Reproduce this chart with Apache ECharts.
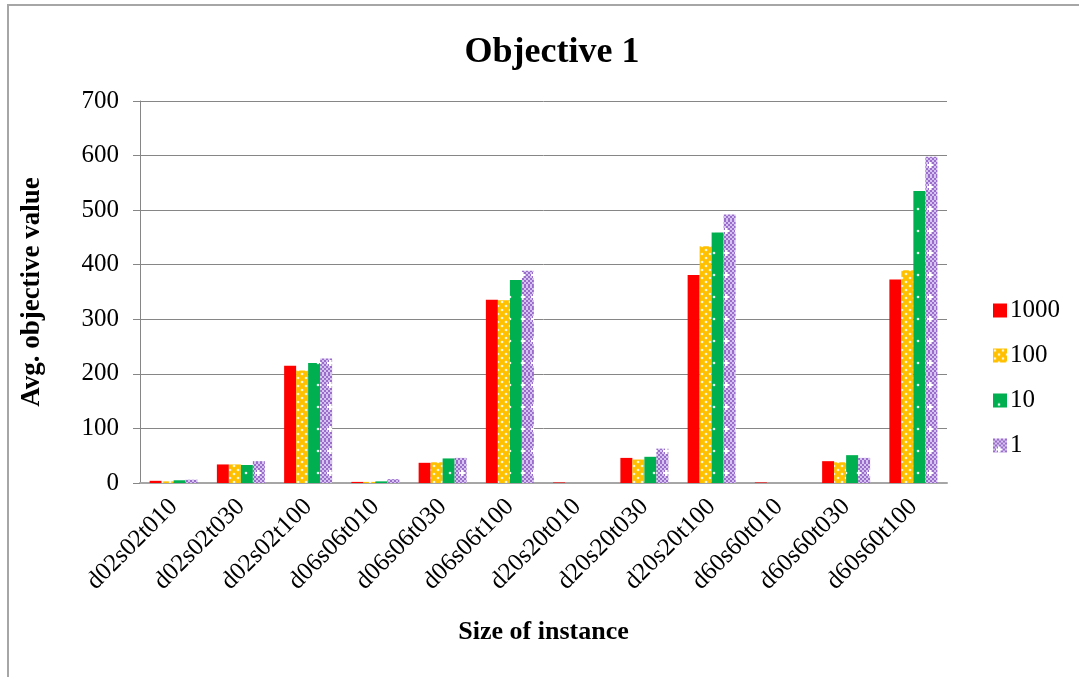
<!DOCTYPE html>
<html>
<head>
<meta charset="utf-8">
<script src="https://cdn.jsdelivr.net/npm/echarts@6/dist/echarts.min.js"></script>
<style>
  html, body { margin: 0; padding: 0; background: #fff; }
  #chart { width: 1079px; height: 677px; }
</style>
</head>
<body>
<div id="chart"></div>
<script>
// Instance sizes on the x axis
const categories = ['d02s02t010', 'd02s02t030', 'd02s02t100', 'd06s06t010', 'd06s06t030', 'd06s06t100',
                    'd20s20t010', 'd20s20t030', 'd20s20t100', 'd60s60t010', 'd60s60t030', 'd60s60t100'];

// Average objective value per setting
const seriesNames = ['1000', '100', '10', '1'];
const values1000 = [4, 34, 215, 2, 37, 336, 1, 46, 381, 1, 40, 373];
const values100  = [3, 34, 206, 2, 38, 335, 0, 43, 434, 0, 38, 390];
const values10   = [5, 33, 220, 3, 45, 372, 0, 48, 459, 0, 51, 535];
const values1    = [6, 40, 228, 7, 46, 389, 0, 63, 492, 0, 46, 598];

const yTicks = { min: 0, max: 700, interval: 100 };

// Fill patterns drawn on small tiles
function tile(w, h, draw) {
  const c = document.createElement('canvas');
  c.width = w; c.height = h;
  draw(c.getContext('2d'));
  return { image: c, repeat: 'repeat' };
}

const redFill = '#FF0000';

const orangeFill = tile(8, 8, ctx => {
  ctx.fillStyle = '#FFC000';
  ctx.fillRect(0, 0, 8, 8);
  ctx.fillStyle = '#FFF6DA';
  ctx.beginPath(); ctx.arc(2, 2, 1.3, 0, Math.PI * 2); ctx.fill();
  ctx.beginPath(); ctx.arc(6, 6, 1.3, 0, Math.PI * 2); ctx.fill();
});

const greenFill = tile(12, 22, ctx => {
  ctx.fillStyle = '#00B050';
  ctx.fillRect(0, 0, 12, 22);
  ctx.fillStyle = '#E6FFF0';
  ctx.beginPath(); ctx.arc(6, 11, 1.3, 0, Math.PI * 2); ctx.fill();
});

const purpleFill = tile(12, 22, ctx => {
  for (let y = 0; y < 22; y += 2) {
    for (let x = 0; x < 12; x += 2) {
      ctx.fillStyle = ((x + y) / 2) % 2 === 0 ? '#9A6CCB' : '#D6C4EE';
      ctx.fillRect(x, y, 2, 2);
    }
  }
  ctx.fillStyle = '#FFFFFF';
  ctx.fillRect(5, 8, 2, 6);
  ctx.fillRect(3, 10, 6, 2);
});

const fills = [redFill, orangeFill, greenFill, purpleFill];
const dataSets = [values1000, values100, values10, values1];

const serif = '"Liberation Serif", "DejaVu Serif", serif';

const chart = echarts.init(document.getElementById('chart'), null, { renderer: 'canvas' });

chart.setOption({
  animation: false,
  backgroundColor: '#fff',
  title: {
    text: 'Objective 1',
    left: 547, top: 30, textAlign: 'center',
    textStyle: { fontFamily: serif, fontSize: 36, fontWeight: 'bold', color: '#000' }
  },
  graphic: [{
    type: 'polyline',
    shape: { points: [[8, 677], [8, 5], [1079, 5]] },
    style: { stroke: '#A6A6A6', lineWidth: 2, fill: null }
  }],
  legend: {
    orient: 'vertical',
    left: 988, top: 293,
    itemWidth: 14, itemHeight: 14,
    itemGap: 20,
    icon: 'rect',
    textStyle: { fontFamily: serif, fontSize: 25, color: '#000', padding: [0, 0, 0, -2] },
    data: seriesNames
  },
  grid: { left: 140, right: 132, top: 101, bottom: 194, containLabel: false },
  xAxis: {
    type: 'category',
    data: categories,
    name: 'Size of instance',
    nameLocation: 'middle',
    nameGap: 136,
    nameTextStyle: { fontFamily: serif, fontSize: 26, fontWeight: 'bold', color: '#000' },
    axisLine: { lineStyle: { color: '#A6A6A6', width: 2 } },
    axisTick: { show: false },
    axisLabel: {
      rotate: 45, interval: 0, margin: 20,
      fontFamily: serif, fontSize: 25, color: '#000'
    }
  },
  yAxis: {
    type: 'value',
    min: yTicks.min, max: yTicks.max, interval: yTicks.interval,
    name: 'Avg. objective value',
    nameLocation: 'middle',
    nameGap: 94,
    nameTextStyle: { fontFamily: serif, fontSize: 27, fontWeight: 'bold', color: '#000' },
    axisLine: { show: true, lineStyle: { color: '#868686', width: 1 } },
    axisTick: { show: true, length: 7, lineStyle: { color: '#868686' } },
    axisLabel: { margin: 21, fontFamily: serif, fontSize: 25, color: '#000' },
    splitLine: { lineStyle: { color: '#868686', width: 1 } }
  },
  series: seriesNames.map((name, i) => ({
    name,
    type: 'bar',
    data: dataSets[i],
    barWidth: 12,
    barGap: '0%',
    itemStyle: { color: fills[i] }
  }))
});
</script>
</body>
</html>
